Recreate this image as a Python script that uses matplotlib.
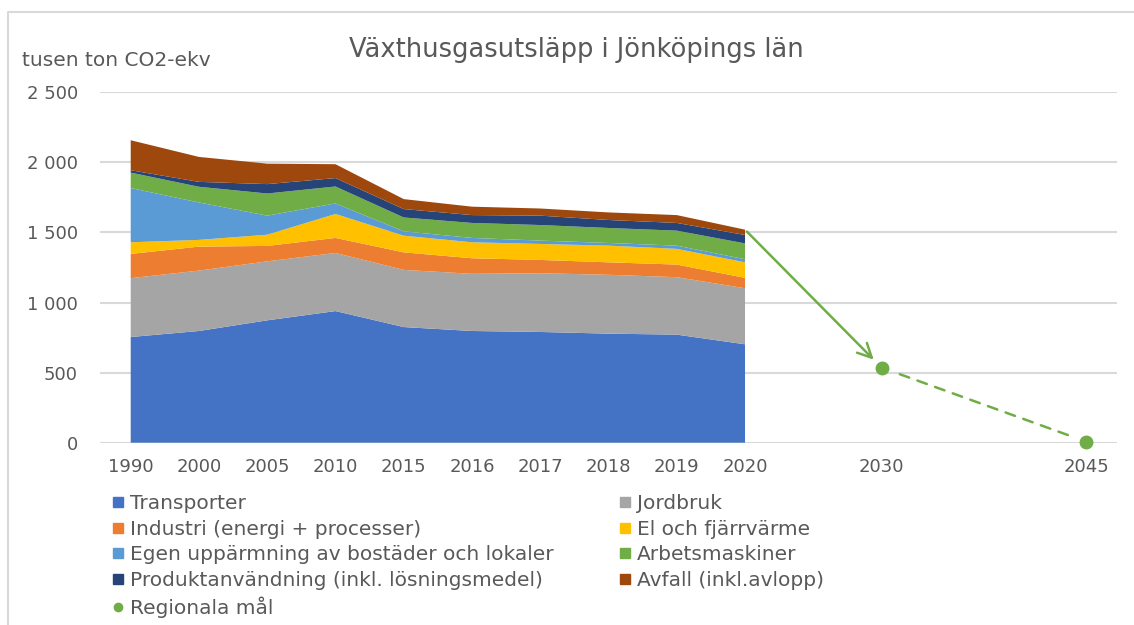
import matplotlib.pyplot as plt
from matplotlib.lines import Line2D

# categories on the x axis (empty slots keep the spacing of Excel's category axis)
categories = ['1990', '2000', '2005', '2010', '2015', '2016', '2017', '2018', '2019', '2020',
              '', '2030', '', '', '2045']
years = ['1990', '2000', '2005', '2010', '2015', '2016', '2017', '2018', '2019', '2020']

# tusen ton CO2-ekv per sector
transporter = [754, 797, 873, 939, 825, 797, 790, 778, 771, 702]
jordbruk = [420, 431, 421, 415, 408, 408, 419, 420, 410, 400]
industri = [173, 171, 110, 107, 125, 111, 95, 89, 90, 74]
el_fjarrvarme = [83, 48, 80, 171, 119, 114, 114, 119, 112, 111]
egen_uppvarmning = [387, 267, 136, 75, 31, 31, 24, 19, 23, 22]
arbetsmaskiner = [110, 112, 158, 121, 99, 107, 111, 107, 107, 113]
produktanvandning = [17, 35, 67, 60, 60, 56, 67, 57, 55, 60]
avfall = [214, 178, 146, 99, 71, 60, 51, 54, 56, 38]

goal_years = ['2030', '2045']
goal_values = [536, 7]

labels = ['Transporter', 'Jordbruk', 'Industri (energi + processer)', 'El och fjärrvärme',
          'Egen uppärmning av bostäder och lokaler', 'Arbetsmaskiner',
          'Produktanvändning (inkl. lösningsmedel)', 'Avfall (inkl.avlopp)']
colors = ['#4472C4', '#A5A5A5', '#ED7D31', '#FFC000', '#5B9BD5', '#70AD47', '#264478', '#9E480E']
goal_color = '#70AD47'
text_color = '#595959'
grid_color = '#D9D9D9'

fig = plt.figure(figsize=(11.34, 6.25), dpi=100)
ax = fig.add_axes([100 / 1134, 0.2917, 1017 / 1134, 0.5606])

x = [categories.index(y) for y in years]
series = [transporter, jordbruk, industri, el_fjarrvarme, egen_uppvarmning,
          arbetsmaskiner, produktanvandning, avfall]
ax.stackplot(x, *series, colors=colors, linewidth=0)

gx = [categories.index(y) for y in goal_years]
ax.plot(gx, goal_values, 'o', color=goal_color, markersize=9, zorder=5, clip_on=False)

# arrow from the 2020 total down to the 2030 goal, dashed line to 2045
total_2020 = sum(s[-1] for s in series)
ax.annotate('', xy=(gx[0], goal_values[0]), xytext=(x[-1], total_2020),
            arrowprops=dict(arrowstyle='->,head_length=1.0,head_width=0.5', color=goal_color,
                            lw=1.8, shrinkA=2, shrinkB=8))
ax.annotate('', xy=(gx[1], goal_values[1]), xytext=(gx[0], goal_values[0]),
            arrowprops=dict(arrowstyle='-', color=goal_color, lw=1.8, linestyle=(0, (4, 3.5)),
                            shrinkA=14, shrinkB=11))

ax.set_xlim(-0.45, len(categories) - 0.55)
ax.set_ylim(0, 2500)
ax.set_yticks(range(0, 2501, 500))
ax.set_yticklabels([f'{v:,}'.replace(',', ' ') for v in range(0, 2501, 500)])
ax.set_xticks(range(len(categories)))
ax.set_xticklabels(categories)
ax.tick_params(length=0, labelsize=13, labelcolor=text_color)
ax.tick_params(axis='y', pad=16)
ax.tick_params(axis='x', pad=11)
ax.grid(axis='y', color=grid_color, lw=1.5)
ax.set_axisbelow(True)
for s in ax.spines.values():
    s.set_visible(False)

fig.text(576 / 1134, 1 - 50 / 625, 'Växthusgasutsläpp i Jönköpings län', ha='center', va='center',
         fontsize=18.5, color=text_color)
fig.text(22 / 1134, 1 - 60 / 625, 'tusen ton CO2-ekv', ha='left', va='center',
         fontsize=14.5, color=text_color)

# legend: fill row by row like Excel
handles = [Line2D([], [], marker='s', ls='none', color=c, markersize=7) for c in colors]
goal_handle = Line2D([], [], marker='o', ls='none', color=goal_color, markersize=6)
order_left = [0, 2, 4, 6]
order_right = [1, 3, 5, 7]
h = [handles[i] for i in order_left] + [goal_handle] + [handles[i] for i in order_right]
l = [labels[i] for i in order_left] + ['Regionala mål'] + [labels[i] for i in order_right]
fig.legend(h, l, loc='upper left', bbox_to_anchor=(113 / 1134, 1 - 494 / 625), ncol=2,
           frameon=False, fontsize=14.5, labelcolor=text_color, handlelength=0.5,
           handletextpad=0.35, labelspacing=0.33, columnspacing=3.3, borderpad=0, borderaxespad=0)

# light chart frame, runs off the right and bottom edges of the picture
fig.add_artist(Line2D([8 / 1134, 8 / 1134, 1.05], [-0.05, 1 - 12 / 625, 1 - 12 / 625],
                      transform=fig.transFigure, color=grid_color, lw=1.5))

fig.savefig('out.png', dpi=100)
